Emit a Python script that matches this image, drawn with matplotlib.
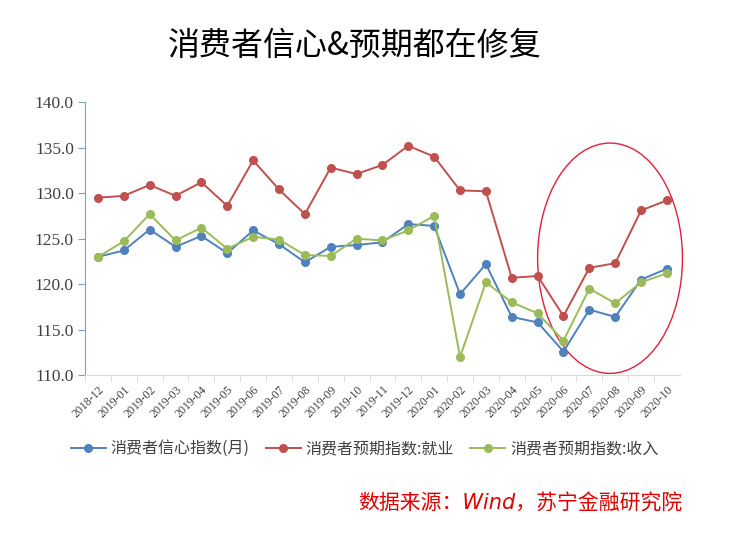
import matplotlib
matplotlib.use("Agg")
import matplotlib.pyplot as plt
from matplotlib.patches import Ellipse

plt.rcParams["font.family"] = ["Noto Sans CJK SC", "DejaVu Sans"]

months = ["2018-12", "2019-01", "2019-02", "2019-03", "2019-04", "2019-05", "2019-06",
          "2019-07", "2019-08", "2019-09", "2019-10", "2019-11", "2019-12", "2020-01",
          "2020-02", "2020-03", "2020-04", "2020-05", "2020-06", "2020-07", "2020-08",
          "2020-09", "2020-10"]
confidence = [123.0, 123.7, 126.0, 124.1, 125.3, 123.4, 125.9, 124.4, 122.4, 124.1, 124.3,
              124.6, 126.6, 126.4, 118.9, 122.2, 116.4, 115.8, 112.6, 117.2, 116.4, 120.5, 121.7]
employment = [129.5, 129.7, 130.9, 129.7, 131.2, 128.6, 133.6, 130.4, 127.7, 132.8, 132.1,
              133.1, 135.2, 134.0, 130.3, 130.2, 120.7, 120.9, 116.5, 121.8, 122.3, 128.1, 129.2]
income = [123.0, 124.7, 127.7, 124.8, 126.2, 123.9, 125.2, 124.9, 123.2, 123.1, 125.0,
          124.8, 125.9, 127.5, 112.0, 120.2, 118.0, 116.8, 113.8, 119.5, 117.9, 120.2, 121.2]
series_names = ["消费者信心指数(月)", "消费者预期指数:就业", "消费者预期指数:收入"]
colors = ["#4F81BD", "#C0504D", "#9BBB59"]

fig = plt.figure(figsize=(7.29, 5.43), dpi=100)
ax = fig.add_axes([0.1166, 0.309, 0.816, 0.503])

x = list(range(len(months)))
for ys, name, c in zip([confidence, employment, income], series_names, colors):
    ax.plot(x, ys, color=c, lw=1.4, marker="o", ms=5.5, label=name)

ax.set_xlim(-0.5, len(months) - 0.5)
ax.set_ylim(110, 140)
ax.set_yticks(range(110, 141, 5))
ax.set_yticklabels([f"{v:.1f}" for v in range(110, 141, 5)],
                   family="Liberation Serif", fontsize=12.5, color="#404040")
ax.set_xticks(x)
ax.set_xticklabels(months, rotation=45, ha="right", rotation_mode="anchor",
                   family="Liberation Serif", fontsize=8.5, color="#404040")
ax.tick_params(axis="x", length=0, pad=6)
ax.set_xticks([i + 0.5 for i in x[:-1]] + [-0.5], minor=True)
ax.tick_params(axis="x", which="minor", length=5, color="#D9D9D9")
ax.tick_params(axis="y", length=5, color="#7F9FBF", pad=3)

for s in ["top", "right"]:
    ax.spines[s].set_visible(False)
ax.spines["left"].set_color("#7F9FBF")
ax.spines["bottom"].set_color("#D9D9D9")

# highlight circle around the recovery months
ell = Ellipse((19.8, 122.85), 5.6, 25.3, fill=False, ec="#E0203A", lw=1.0, clip_on=False)
ax.add_patch(ell)

ax.legend(loc="upper center", bbox_to_anchor=(0.47, -0.185), ncol=3, frameon=False,
          fontsize=11.5, handlelength=2.2, columnspacing=1.0, handletextpad=0.3,
          labelcolor="#404040")

fig.text(0.487, 0.915, "消费者信心&预期都在修复", ha="center", va="center",
         fontsize=23, color="black")
fig.text(0.936, 0.073, "数据来源：Wind，苏宁金融研究院", ha="right", va="center",
         fontsize=15, color="#E00000", style="italic",
         family=["DejaVu Sans", "Noto Sans CJK SC"])

fig.savefig("out.png", dpi=100)
